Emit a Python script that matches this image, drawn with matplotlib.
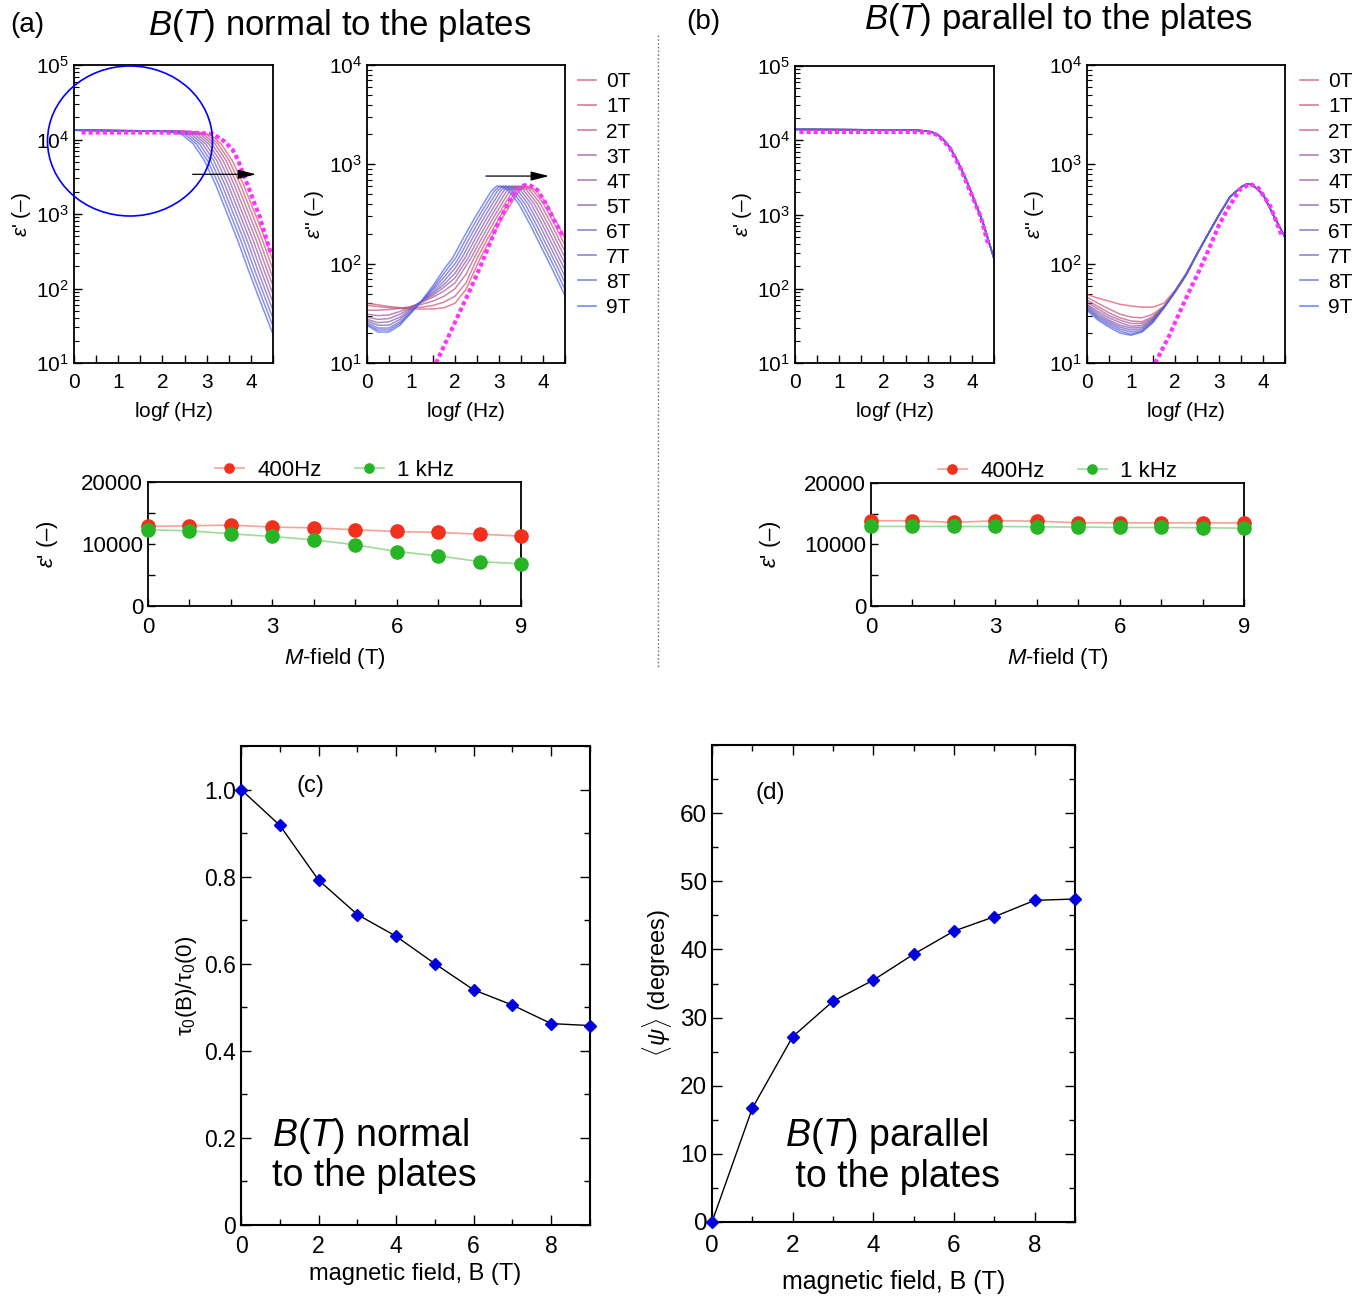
import numpy as np
import matplotlib
matplotlib.use('Agg')
import matplotlib.pyplot as plt
from matplotlib.colors import LinearSegmentedColormap
from matplotlib.patches import Ellipse
from matplotlib.lines import Line2D
from matplotlib.ticker import MultipleLocator, LogLocator, NullFormatter

plt.rcParams['font.family'] = ['Liberation Sans', 'DejaVu Sans']
plt.rcParams['mathtext.fontset'] = 'custom'
plt.rcParams['mathtext.rm'] = 'Liberation Sans'
plt.rcParams['mathtext.it'] = 'Liberation Sans:italic'
plt.rcParams['mathtext.bf'] = 'Liberation Sans:bold'

# ---------------- data ----------------
field_labels = ['0T', '1T', '2T', '3T', '4T', '5T', '6T', '7T', '8T', '9T']

# (a) position (log f) of the loss peak for every field
peak_a = [3.58, 3.51, 3.44, 3.37, 3.30, 3.23, 3.16, 3.09, 3.02, 2.95]

# (a) eps' curve shape, relative to the loss peak position
e1_dx = [-3.6, -2.0, -1.0, -0.75, -0.5, -0.25, 0.0, 0.25, 0.5, 0.75, 1.0, 1.25, 1.5, 1.75]
e1_val = [13400, 13100, 12900, 12500, 11600, 8700, 5200, 2500, 1060, 446, 173, 70, 29, 12]

# (a) eps'' relaxation part, relative to peak position
e2_dx = [-1.0, -0.75, -0.5, -0.25, -0.125, 0.0, 0.125, 0.25, 0.5, 0.75, 1.0, 1.25, 1.5, 1.75]
e2_val = [115, 185, 290, 440, 540, 605, 590, 555, 400, 250, 150, 90, 53, 32]

# low frequency part of eps'' (log f = 0, 0.25, 0.5 ...)
lowf = [0, 0.25, 0.5, 0.75, 1.0, 1.25, 1.5, 1.75, 2.0, 2.25]
e2_low_a = [
    [38, 37, 36, 35.5, 35, 35, 35, 36, 40, 55],
    [40, 38.5, 37, 36, 36, 36.5, 38, 41, 47, 64],
    [34, 34, 34.5, 35.5, 37, 39, 42, 47, 56, 78],
    [31, 30, 30.5, 33, 37, 41, 46, 53, 64],
    [29, 27.5, 28, 31, 36, 42, 48, 58, 72],
    [27.5, 25.5, 26, 29, 35, 42, 50, 62, 80],
    [26.5, 24, 24, 27.5, 34, 42, 52, 67, 90],
    [25.5, 22.5, 22.5, 26, 33, 42, 55, 73, 100],
    [24.5, 21.5, 21.5, 25, 32, 42, 57, 80],
    [24, 20.5, 20.5, 24, 32, 43, 60, 88],
]

# (a) fits (dotted magenta)
fit1_a_x = [0.17, 1.0, 2.0, 2.75, 3.14, 3.41, 3.59, 3.71, 3.82, 3.97, 4.08, 4.20, 4.31, 4.45]
fit1_a_y = [12400, 12400, 12400, 12300, 11900, 9360, 7230, 5310, 3520, 2100, 1390, 920, 550, 300]
fit2_a_x = [1.57, 1.92, 2.14, 2.37, 2.56, 2.78, 2.97, 3.20, 3.42, 3.55, 3.68, 3.87, 4.06, 4.25, 4.47]
fit2_a_y = [10, 21.5, 35, 58, 90, 155, 250, 400, 560, 610, 625, 553, 406, 276, 185]

# (b) eps' (all fields on top of each other)
e1_b_x = [0, 1, 2, 2.75, 3.0, 3.125, 3.25, 3.375, 3.5, 3.625, 3.75, 3.875, 4.0, 4.25, 4.5]
e1_b_y = [14000, 13900, 13800, 13600, 13300, 12650, 11600, 9900, 8000, 6000, 4200, 2900, 1900, 780, 255]
fit1_b_x = [0.1, 2.8, 3.1, 3.25, 3.5, 3.75, 4.0, 4.2, 4.38]
fit1_b_y = [12900, 12900, 12600, 11500, 7900, 4100, 1800, 930, 374]

# (b) eps''
e2_b_high_x = [2.5, 2.75, 3.0, 3.25, 3.5, 3.625, 3.75, 4.0, 4.25, 4.5]
e2_b_high_y = [125, 198, 310, 470, 590, 632, 628, 500, 300, 185]
e2_low_b = [
    [49, 45, 42, 39, 37.5, 36.5, 36.5, 40, 54, 80],
    [46, 40, 35, 31, 29, 28.5, 31, 37.5, 52, 77],
    [43, 37, 32, 28.5, 26.5, 26, 29.5, 37, 52, 77],
    [41, 35, 30, 27, 25, 25, 28.5, 36.8, 52, 77],
    [39, 33, 28.5, 25.5, 23.5, 23.8, 28, 36.6, 52, 77],
    [38, 31.5, 27, 24, 22.5, 22.8, 27.5, 36.4, 52, 77],
    [37, 30, 26, 23, 21.5, 22, 27, 36.3, 52, 77],
    [36, 29, 25, 22, 20.5, 21.2, 26.5, 36.2, 52, 77],
    [35, 28, 24, 21, 19.5, 20.8, 26, 36.1, 52, 77],
    [34, 27, 23, 20, 19, 20.5, 25.5, 36, 52, 77],
]
fit2_b_x = [1.55, 1.86, 2.08, 2.31, 2.54, 2.77, 3.0, 3.22, 3.48, 3.71, 3.9, 4.17, 4.43]
fit2_b_y = [10, 18.5, 30.6, 51, 83, 140, 245, 370, 560, 636, 575, 376, 190]

# eps' vs field at two frequencies
mfield = [0, 1, 2, 3, 4, 5, 6, 7, 8, 9]
a_400 = [12830, 12940, 13050, 12720, 12610, 12290, 12020, 11860, 11590, 11270]
a_1k = [12290, 12130, 11640, 11210, 10670, 9870, 8790, 8090, 7170, 6790]
b_400 = [13860, 13860, 13590, 13860, 13800, 13530, 13530, 13530, 13530, 13480]
b_1k = [12930, 12930, 12930, 12930, 12880, 12830, 12770, 12770, 12720, 12660]

# (c) and (d)
bfield = [0, 1, 2, 3, 4, 5, 6, 7, 8, 9]
tau_ratio = [1.0, 0.918, 0.792, 0.713, 0.663, 0.600, 0.540, 0.505, 0.4625, 0.458]
psi_mean = [0, 16.7, 27.2, 32.4, 35.5, 39.3, 42.7, 44.8, 47.2, 47.4]

# ---------------- figure ----------------
W, H = 1368, 1303
fig = plt.figure(figsize=(W / 100, H / 100), dpi=100)


def add_ax(l, t, r, b):
    return fig.add_axes([l / W, 1 - b / H, (r - l) / W, (b - t) / H])


cmap = LinearSegmentedColormap.from_list('rb', ['#d9506a', '#8a5aa8', '#4b63e8'])
cols = [cmap(i / 9) for i in range(10)]
MAG = '#ff33ff'
FITLS = (0, (1, 0.7))
ARW = dict(arrowstyle='-|>,head_length=1.1,head_width=0.28', color='black', lw=0.9,
           mutation_scale=10)


def style_log(ax, ymax, ylab):
    ax.set_xlim(0, 4.5)
    ax.set_yscale('log')
    ax.set_ylim(10, ymax)
    ax.xaxis.set_major_locator(MultipleLocator(1))
    ax.xaxis.set_minor_locator(MultipleLocator(0.5))
    ax.yaxis.set_major_locator(LogLocator(base=10, numticks=10))
    ax.yaxis.set_minor_locator(LogLocator(base=10, subs=np.arange(2, 10), numticks=20))
    ax.yaxis.set_minor_formatter(NullFormatter())
    ax.tick_params(which='both', direction='in', top=False, right=False, labelsize=15)
    ax.tick_params(which='major', length=6, width=1)
    ax.tick_params(which='minor', length=3.5, width=0.8)
    ax.tick_params(axis='x', which='both', length=6, width=1, pad=7)
    for s in ax.spines.values():
        s.set_linewidth(1.3)
    ax.set_xlabel(r'log$f$ (Hz)', fontsize=15, labelpad=6)
    ax.set_ylabel(ylab, fontsize=15, labelpad=2)


def side_legend(ax, x0):
    hs = [Line2D([], [], color=cols[k], lw=1.2, alpha=0.75) for k in range(10)]
    ax.legend(hs, field_labels, loc='upper left', bbox_to_anchor=(x0, 0.975),
              frameon=False, fontsize=15, handlelength=0.85, handletextpad=0.5,
              labelspacing=0.29, borderpad=0, borderaxespad=0)


# (a) eps'
ax1 = add_ax(74, 65, 273, 363)
for k in range(10):
    ax1.plot(peak_a[k] + np.array(e1_dx), e1_val, color=cols[k], lw=1.1, alpha=0.7)
ax1.plot(fit1_a_x, fit1_a_y, color=MAG, lw=3.0, ls=FITLS)
style_log(ax1, 1e5, "$\\varepsilon$' (–)")
ax1.annotate('', xy=(4.18, 3410), xytext=(2.62, 3410), arrowprops=ARW)

# (a) eps''
ax2 = add_ax(367, 65, 565, 363)
for k in range(10):
    low = e2_low_a[k]
    x = np.concatenate([lowf[:len(low)], peak_a[k] + np.array(e2_dx)])
    y = np.concatenate([low, e2_val])
    ax2.plot(x, y, color=cols[k], lw=1.1, alpha=0.7)
ax2.plot(fit2_a_x, fit2_a_y, color=MAG, lw=3.0, ls=FITLS)
style_log(ax2, 1e4, "$\\varepsilon$'' (–)")
ax2.annotate('', xy=(4.2, 762), xytext=(2.64, 762), arrowprops=ARW)
side_legend(ax2, 1.066)

# (b) eps'
ax3 = add_ax(795, 66, 994, 363)
for k in range(10):
    ax3.plot(e1_b_x, e1_b_y, color=cols[k], lw=1.1, alpha=0.7)
ax3.plot(fit1_b_x, fit1_b_y, color=MAG, lw=3.0, ls=FITLS)
style_log(ax3, 1e5, "$\\varepsilon$' (–)")

# (b) eps''
ax4 = add_ax(1087, 65, 1285, 363)
for k in range(10):
    x = np.concatenate([lowf, e2_b_high_x])
    y = np.concatenate([e2_low_b[k], e2_b_high_y])
    ax4.plot(x, y, color=cols[k], lw=1.1, alpha=0.7)
ax4.plot(fit2_b_x, fit2_b_y, color=MAG, lw=3.0, ls=FITLS)
style_log(ax4, 1e4, "$\\varepsilon$'' (–)")
side_legend(ax4, 1.076)

# circle in (a)
fig.add_artist(Ellipse((130 / W, 1 - 141 / H), 165 / W, 150 / H, transform=fig.transFigure,
                       fill=False, edgecolor='#0000ff', lw=1.2))


def field_panel(ax, r400, r1k):
    ax.plot(mfield, r400, '-', color='#f6a396', lw=1.2, marker='o', ms=9.5,
            mfc='#f2311c', mec='#f2311c', label='400Hz', clip_on=False, zorder=3)
    ax.plot(mfield, r1k, '-', color='#9fdc9a', lw=1.2, marker='o', ms=9.5,
            mfc='#27b526', mec='#27b526', label='1 kHz', clip_on=False, zorder=3)
    ax.set_xlim(0, 9)
    ax.set_ylim(0, 20000)
    ax.set_xticks([0, 3, 6, 9])
    ax.xaxis.set_minor_locator(MultipleLocator(1))
    ax.set_yticks([0, 10000, 20000])
    ax.yaxis.set_minor_locator(MultipleLocator(5000))
    ax.tick_params(which='both', direction='in', top=False, right=False, labelsize=16,
                   length=5, width=1)
    ax.tick_params(axis='x', pad=8)
    for s in ax.spines.values():
        s.set_linewidth(1.3)
    ax.set_xlabel(r'$M$-field (T)', fontsize=16, labelpad=6)
    ax.set_ylabel("$\\varepsilon$' (–)", fontsize=16)
    ax.yaxis.set_label_coords(-0.235, 0.5)
    ax.legend(loc='lower center', bbox_to_anchor=(0.5, 0.99), ncol=2, frameon=False,
              fontsize=16, handlelength=1.3, handletextpad=0.6, columnspacing=1.5,
              markerscale=0.7, borderaxespad=0, borderpad=0.1)


ax5 = add_ax(148, 482, 521, 606)
field_panel(ax5, a_400, a_1k)
ax6 = add_ax(871, 483, 1244, 606)
field_panel(ax6, b_400, b_1k)

# headings
fig.text(10 / W, 1 - 25 / H, '(a)', fontsize=20, ha='left', va='center')
fig.text(340 / W, 1 - 25 / H, r'$B$($T$) normal to the plates', fontsize=25,
         ha='center', va='center')
fig.text(686 / W, 1 - 22 / H, '(b)', fontsize=20, ha='left', va='center')
fig.text(1058 / W, 1 - 20 / H, r'$B$($T$) parallel to the plates', fontsize=25,
         ha='center', va='center')
fig.add_artist(Line2D([658 / W, 658 / W], [1 - 35 / H, 1 - 668 / H], transform=fig.transFigure,
                      color='0.45', lw=1, ls=(0, (1.2, 1.5))))


def style_cd(ax, fs, pad):
    ax.set_xlim(0, 9)
    ax.xaxis.set_major_locator(MultipleLocator(2))
    ax.xaxis.set_minor_locator(MultipleLocator(1))
    ax.tick_params(which='both', direction='in', top=True, right=True, labelsize=fs)
    ax.tick_params(which='major', length=7, width=1)
    ax.tick_params(which='minor', length=4, width=1)
    ax.tick_params(axis='x', pad=pad)
    for s in ax.spines.values():
        s.set_linewidth(1.5)


# (c)
ax7 = add_ax(241, 746, 590, 1225)
ax7.plot(bfield, tau_ratio, '-', color='black', lw=1.0, marker='D', ms=6.5,
         mfc='#0000dd', mec='#0000dd', clip_on=False, zorder=3)
style_cd(ax7, 16.5, 7)
ax7.set_ylim(0, 1.1)
ax7.set_yticks([0, 0.2, 0.4, 0.6, 0.8, 1.0])
ax7.set_yticklabels(['0', '0.2', '0.4', '0.6', '0.8', '1.0'])
ax7.yaxis.set_minor_locator(MultipleLocator(0.1))
ax7.set_xlabel('magnetic field, B (T)', fontsize=17, labelpad=4)
ax7.set_ylabel('τ$_0$(B)/τ$_0$(0)', fontsize=16)
ax7.text(0.198, 0.916, '(c)', transform=ax7.transAxes, fontsize=17, ha='center', va='center')
ax7.text(0.089, 0.146, '$B$($T$) normal\nto the plates', transform=ax7.transAxes,
         fontsize=27, ha='left', va='center', linespacing=1.1)

# (d)
ax8 = add_ax(712, 745, 1075, 1222)
ax8.plot(bfield, psi_mean, '-', color='black', lw=1.0, marker='D', ms=6.5,
         mfc='#0000dd', mec='#0000dd', clip_on=False, zorder=3)
style_cd(ax8, 17.5, 9)
ax8.set_ylim(0, 70)
ax8.set_yticks([0, 10, 20, 30, 40, 50, 60])
ax8.yaxis.set_minor_locator(MultipleLocator(5))
ax8.set_xlabel('magnetic field, B (T)', fontsize=18, labelpad=10)
ax8.set_ylabel(r'$\langle\psi\rangle$ (degrees)', fontsize=17)
ax8.text(0.16, 0.90, '(d)', transform=ax8.transAxes, fontsize=17.5, ha='center', va='center')
ax8.text(0.2, 0.14, '$B$($T$) parallel\n to the plates', transform=ax8.transAxes,
         fontsize=27, ha='left', va='center', linespacing=1.1)

fig.savefig('out.png', dpi=100)
